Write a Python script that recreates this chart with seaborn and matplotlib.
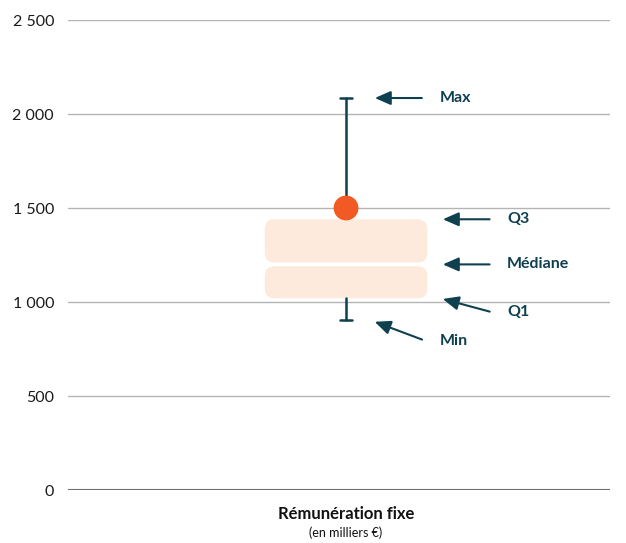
import matplotlib.pyplot as plt
import seaborn as sns
import pandas as pd
from matplotlib.patches import FancyBboxPatch

# values (milliers d'euros)
category = ["Rémunération fixe"]
stat_min = [905]
stat_q1 = [1020]
stat_median = [1200]
stat_q3 = [1440]
stat_max = [2085]
highlight = [1500]

labels = ["Max", "Q3", "Médiane", "Q1", "Min"]

dark = "#0f4050"
orange = "#f15a22"
box_color = "#fdeadd"

sns.set_theme(style="white")
plt.rcParams['font.family'] = ['Lato', 'DejaVu Sans']

fig = plt.figure(figsize=(6.26, 5.43), dpi=100)
ax = fig.add_axes([68 / 626, 53 / 543, 542 / 626, 470 / 543])

df = pd.DataFrame({"cat": category, "value": highlight})

ax.set_xlim(-1.026, 0.974)
ax.set_ylim(0, 2500)

# grid lines
for v in [500, 1000, 1500, 2000, 2500]:
    ax.axhline(v, color="#b4b4b4", lw=1, zorder=0)
ax.axhline(0, color="#6e6e6e", lw=1.5, zorder=0)

# rounded box split at the median
half_w = 0.3
gap = 10
for lo, hi in [(stat_q1[0], stat_median[0] - gap), (stat_median[0] + gap, stat_q3[0])]:
    patch = FancyBboxPatch((-half_w, lo), 2 * half_w, hi - lo,
                           boxstyle="round,pad=0,rounding_size=0.035",
                           mutation_aspect=1500, fc=box_color, ec="none", zorder=1)
    ax.add_patch(patch)

# whiskers
cap = 0.022
ax.plot([0, 0], [highlight[0], stat_max[0]], color=dark, lw=1.8, zorder=2)
ax.plot([-cap, cap], [stat_max[0], stat_max[0]], color=dark, lw=1.8, zorder=2)
ax.plot([0, 0], [stat_min[0], stat_q1[0]], color=dark, lw=1.8, zorder=2)
ax.plot([-cap, cap], [stat_min[0], stat_min[0]], color=dark, lw=1.8, zorder=2)

# highlighted point
sns.scatterplot(data=df, x=[0], y="value", ax=ax, s=320, color=orange,
                edgecolor="none", zorder=3, legend=False)

# annotation arrows
arrow_style = dict(arrowstyle="-|>,head_length=0.8,head_width=0.35", color=dark, lw=1.5)
ann = {
    "Max": ((0.096, stat_max[0]), (0.29, stat_max[0]), 0.347),
    "Q3": ((0.347, stat_q3[0]), (0.54, stat_q3[0]), 0.594),
    "Médiane": ((0.347, stat_median[0]), (0.54, stat_median[0]), 0.594),
    "Q1": ((0.347, stat_q1[0]), (0.54, stat_q1[0] - 75), 0.594),
    "Min": ((0.096, stat_min[0] - 5), (0.29, stat_min[0] - 110), 0.347),
}
for name in labels:
    head, tail, tx = ann[name]
    ax.annotate("", xy=head, xytext=tail, arrowprops=arrow_style)
    ax.text(tx, tail[1], name, color=dark, fontsize=11.5, fontweight="bold",
            va="center", ha="left")

ticks = [0, 500, 1000, 1500, 2000, 2500]
ax.set_xticks([])
ax.set_yticks(ticks)
ax.set_yticklabels([f"{v:,}".replace(",", " ") for v in ticks],
                   fontsize=11.5, color="#1a1a1a")
ax.tick_params(axis="y", length=0, pad=10)
sns.despine(ax=ax, left=True, bottom=True)
ax.set_ylabel("")
ax.set_xlabel("")

fig.text(346 / 626, 1 - 514 / 543, category[0], ha="center", va="center",
         fontsize=12, fontweight="bold", color="#111111")
fig.text(346 / 626, 1 - 533 / 543, "(en milliers €)", ha="center", va="center",
         fontsize=9, color="#111111")

fig.savefig("out.png", dpi=100)
